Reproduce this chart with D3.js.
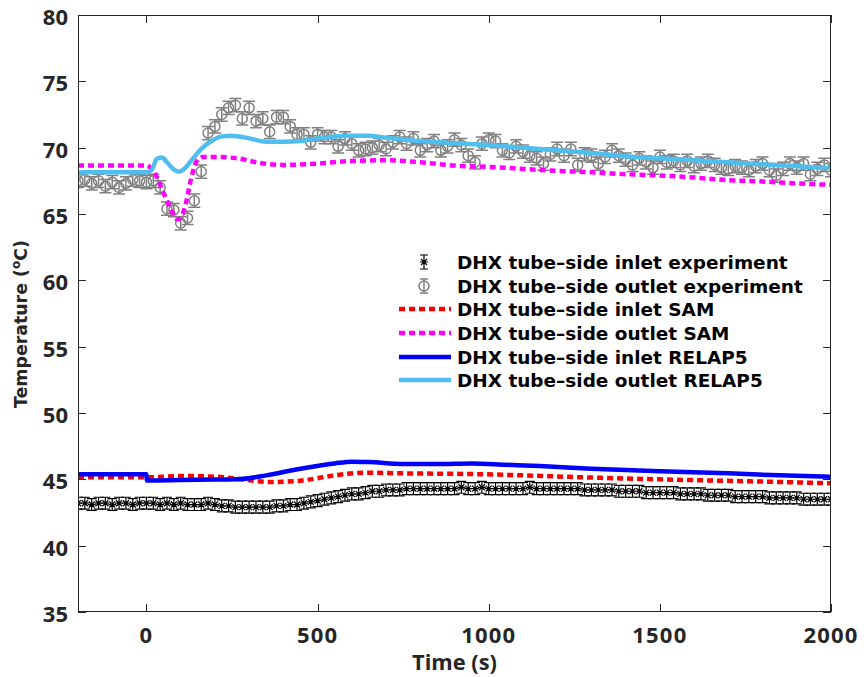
<!DOCTYPE html>
<html><head><meta charset="utf-8">
<script src="https://cdn.jsdelivr.net/npm/d3@7/dist/d3.min.js"></script>
<style>body{margin:0;background:#fff}</style>
</head><body><svg id="c" width="864" height="677"></svg>
<script>
// ---------------- DATA ----------------
const xTicks = [0, 500, 1000, 1500, 2000];
const yTicks = [35, 40, 45, 50, 55, 60, 65, 70, 75, 80];

// experiment sampling times (every 20 s)
const expTime = d3.range(-200, 2001, 20);

const expInlet = [43.2,43.2,43.1,43.2,43.2,43.1,43.2,43.2,43.1,43.2,
  43.2,43.2,43.1,43.2,43.1,43.2,43.1,43.1,43.1,43.2,
  43.1,43.0,43.0,42.9,42.9,42.9,42.9,42.9,42.9,43.0,
  43.0,43.1,43.1,43.2,43.3,43.4,43.5,43.6,43.7,43.8,
  43.9,43.9,44.0,44.1,44.1,44.2,44.2,44.2,44.3,44.3,
  44.3,44.3,44.3,44.3,44.3,44.3,44.4,44.3,44.3,44.4,
  44.3,44.3,44.3,44.3,44.3,44.3,44.4,44.3,44.3,44.3,
  44.3,44.3,44.3,44.3,44.2,44.2,44.2,44.2,44.2,44.1,
  44.1,44.1,44.1,44.0,44.0,44.0,44.0,44.0,43.9,43.9,
  43.9,43.9,43.8,43.8,43.8,43.8,43.7,43.7,43.7,43.7,
  43.7,43.6,43.6,43.6,43.6,43.6,43.5,43.5,43.5,43.5,43.5];

const expOutlet = [67.5,67.6,67.3,67.5,67.1,67.4,67.0,67.3,67.6,67.5,
  67.4,67.5,67.0,65.4,65.3,64.3,64.7,66.0,68.2,71.1,
  71.6,72.5,73.0,73.2,72.2,73.0,72.0,72.2,71.2,72.3,
  72.3,71.6,71.0,71.0,70.4,71.0,70.8,70.8,70.1,70.7,
  70.3,69.8,69.9,70.0,70.2,69.9,70.4,70.8,70.3,70.7,
  69.8,70.2,70.5,69.8,70.1,70.6,70.2,69.4,68.9,70.3,
  70.6,70.5,69.8,69.6,70.1,69.7,69.4,69.2,68.8,69.5,
  69.9,69.4,69.9,68.7,69.5,69.4,68.8,69.3,69.8,69.4,
  69.1,68.7,69.2,68.9,68.5,69.3,68.9,69.0,68.7,69.0,
  68.6,68.8,69.0,68.7,68.5,68.4,68.6,68.5,68.3,68.6,
  68.8,68.3,67.9,68.4,68.8,68.5,68.8,68.0,68.4,68.7,68.3];

const expInletErr = 0.45;
const expOutletErr = 0.5;

const samInletTime = [-200,0,100,200,280,362,450,550,635,750,950,1100,1277,1500,1668,1850,2000];
const samInletTemp = [45.15,45.15,45.25,45.2,45.0,44.8,44.9,45.3,45.5,45.45,45.4,45.3,45.15,45.0,44.9,44.8,44.7];

const samOutletTime = [-200,0,15,30,45,60,75,90,100,115,130,145,165,200,265,330,400,500,600,700,800,900,1000,1100,1200,1300,1400,1500,1600,1700,1800,1900,2000];
const samOutletTemp = [68.65,68.65,68.4,67.8,66.9,66.0,65.2,64.6,64.7,65.8,67.6,68.9,69.3,69.3,69.2,68.85,68.7,68.8,69.0,69.05,68.9,68.65,68.55,68.4,68.25,68.15,68.0,67.9,67.75,67.55,67.45,67.3,67.2];

const relInletTime = [-200,0,1,100,200,265,350,450,550,600,650,750,850,950,1050,1150,1300,1500,1700,1850,2000];
const relInletTemp = [45.38,45.38,44.92,44.95,44.98,45.0,45.3,45.8,46.2,46.33,46.3,46.15,46.15,46.2,46.1,46.0,45.8,45.6,45.45,45.3,45.2];

const relOutletTime = [-200,0,15,30,45,60,80,95,110,130,160,190,220,250,300,350,400,450,500,550,600,650,700,800,900,1000,1100,1200,1300,1400,1500,1600,1700,1800,1900,2000];
const relOutletTemp = [68.15,68.15,68.3,69.15,69.25,68.9,68.35,68.2,68.4,69.0,69.9,70.5,70.85,70.9,70.7,70.45,70.45,70.5,70.7,70.85,70.9,70.9,70.75,70.5,70.35,70.2,70.0,69.8,69.6,69.35,69.2,69.05,68.9,68.75,68.6,68.45];

const legendLabels = [
  "DHX tube–side inlet experiment",
  "DHX tube–side outlet experiment",
  "DHX tube–side inlet SAM",
  "DHX tube–side outlet SAM",
  "DHX tube–side inlet RELAP5",
  "DHX tube–side outlet RELAP5"
];

// ---------------- CHART ----------------
const svg = d3.select("#c");
const L = 78, R = 831, T = 15, B = 612;
const x = d3.scaleLinear().domain([-200, 2000]).range([L, R]);
const y = d3.scaleLinear().domain([35, 80]).range([B, T]);
const axisCol = "#262626";
const font = "'Open Sans', 'DejaVu Sans', sans-serif";
const legFont = "'DejaVu Sans', 'Open Sans', sans-serif";

function fit(sel, target) {
  const node = sel.node();
  const fs = parseFloat(sel.attr("font-size"));
  const w = node.getComputedTextLength();
  if (w > 0) sel.attr("font-size", (fs * target / w).toFixed(2));
}

const plot = svg.append("g");
plot.append("clipPath").attr("id", "clip").append("rect")
  .attr("x", L).attr("y", T).attr("width", R - L).attr("height", B - T);
const g = plot.append("g").attr("clip-path", "url(#clip)");

// experiment inlet (black asterisks with error bars)
const inl = expTime.map((t, i) => ({t, v: expInlet[i]}));
const gi = g.append("g").attr("stroke", "#000").attr("stroke-width", 1.2).attr("fill", "none");
inl.forEach(d => {
  const cx = x(d.t), cy = y(d.v), y1 = y(d.v + expInletErr), y2 = y(d.v - expInletErr);
  gi.append("path").attr("d",
    `M${cx},${y1}V${y2}M${cx-5},${y1}H${cx+5}M${cx-5},${y2}H${cx+5}` +
    `M${cx-4},${cy}H${cx+4}M${cx},${cy-4}V${cy+4}M${cx-3},${cy-3}L${cx+3},${cy+3}M${cx-3},${cy+3}L${cx+3},${cy-3}`);
});

// experiment outlet (grey circles with error bars)
const outl = expTime.map((t, i) => ({t, v: expOutlet[i]}));
const go = g.append("g").attr("stroke", "#808080").attr("stroke-width", 1.5).attr("fill", "none");
outl.forEach(d => {
  const cx = x(d.t), cy = y(d.v), y1 = y(d.v + expOutletErr), y2 = y(d.v - expOutletErr);
  go.append("path").attr("d", `M${cx},${y1}V${y2}M${cx-6},${y1}H${cx+6}M${cx-6},${y2}H${cx+6}`);
  go.append("circle").attr("cx", cx).attr("cy", cy).attr("r", 5);
});

const line = d3.line().x(d => x(d[0])).y(d => y(d[1])).curve(d3.curveMonotoneX);
function drawLine(ts, vs, col, w, dash) {
  g.append("path").attr("d", line(ts.map((t, i) => [t, vs[i]])))
    .attr("fill", "none").attr("stroke", col).attr("stroke-width", w)
    .attr("stroke-dasharray", dash || null);
}
drawLine(samInletTime, samInletTemp, "#ff0000", 4.5, "6,4");
drawLine(samOutletTime, samOutletTemp, "#ff00ff", 4.5, "6,4");
drawLine(relInletTime, relInletTemp, "#0000ff", 4.5);
drawLine(relOutletTime, relOutletTemp, "#4DBEEE", 4.5);

// axes box & ticks
const ax = svg.append("g").attr("stroke", axisCol).attr("stroke-width", 1).attr("fill", "none");
ax.append("rect").attr("x", L + 0.5).attr("y", T + 0.5).attr("width", R - L - 1).attr("height", B - T - 1);
const tl = 8;
xTicks.forEach(t => {
  const px = Math.round(x(t)) + 0.5;
  ax.append("path").attr("d", `M${px},${B}V${B - tl}M${px},${T}V${T + tl}`);
});
yTicks.forEach(v => {
  const py = Math.round(y(v)) + 0.5;
  ax.append("path").attr("d", `M${L},${py}H${L + tl}M${R},${py}H${R - tl}`);
});

const tg = svg.append("g").attr("fill", axisCol).attr("font-family", font).attr("font-weight", "bold");
xTicks.forEach(t => {
  tg.append("text").attr("x", x(t)).attr("y", 643).attr("text-anchor", "middle")
    .attr("font-size", 22).attr("letter-spacing", 1.2).text(t);
});
yTicks.forEach(v => {
  tg.append("text").attr("x", 68).attr("y", y(v) + 10).attr("text-anchor", "end")
    .attr("font-size", 22).text(v);
});
const xl = tg.append("text").attr("x", (L + R) / 2).attr("y", 670).attr("text-anchor", "middle")
  .attr("font-size", 20).text("Time (s)");
fit(xl, 85);
const yl = tg.append("text").attr("transform", "translate(27,324) rotate(-90)")
  .attr("text-anchor", "middle").attr("font-size", 17).attr("font-family", legFont);
yl.append("tspan").text("Temperature (");
yl.append("tspan").attr("baseline-shift", "super").attr("font-size", "70%").text("o");
yl.append("tspan").text("C)");
fit(yl, 168);

// legend
const rows = [262, 286, 309, 333, 357, 380];
const lg = svg.append("g");
const mx = 424;
{
  const cy = rows[0];
  lg.append("path").attr("stroke", "#000").attr("stroke-width", 1.2).attr("fill", "none")
    .attr("d", `M${mx},${cy-7}V${cy+7}M${mx-4},${cy-7}H${mx+4}M${mx-4},${cy+7}H${mx+4}` +
      `M${mx-4},${cy}H${mx+4}M${mx},${cy-4}V${cy+4}M${mx-3},${cy-3}L${mx+3},${cy+3}M${mx-3},${cy+3}L${mx+3},${cy-3}`);
}
{
  const cy = rows[1];
  lg.append("path").attr("stroke", "#808080").attr("stroke-width", 1.5).attr("fill", "none")
    .attr("d", `M${mx},${cy-7}V${cy+7}M${mx-4},${cy-7}H${mx+4}M${mx-4},${cy+7}H${mx+4}`);
  lg.append("circle").attr("cx", mx).attr("cy", cy).attr("r", 5).attr("stroke", "#808080")
    .attr("stroke-width", 1.5).attr("fill", "none");
}
const legLines = [["#ff0000", "6,4"], ["#ff00ff", "6,4"], ["#0000ff", null], ["#4DBEEE", null]];
legLines.forEach((s, i) => {
  lg.append("line").attr("x1", 399).attr("x2", 451).attr("y1", rows[i + 2]).attr("y2", rows[i + 2])
    .attr("stroke", s[0]).attr("stroke-width", 4.5).attr("stroke-dasharray", s[1]);
});
const legTexts = legendLabels.map((s, i) =>
  lg.append("text").attr("x", 457).attr("y", rows[i]).attr("dy", "0.36em")
    .attr("font-family", legFont).attr("font-weight", "bold").attr("font-size", 17)
    .attr("fill", "#000").text(s));
// size legend so the longest label spans like the reference
{
  const w = legTexts[1].node().getComputedTextLength();
  const fs = (17 * 346 / w).toFixed(2);
  legTexts.forEach(t => t.attr("font-size", fs));
}
</script></body></html>
